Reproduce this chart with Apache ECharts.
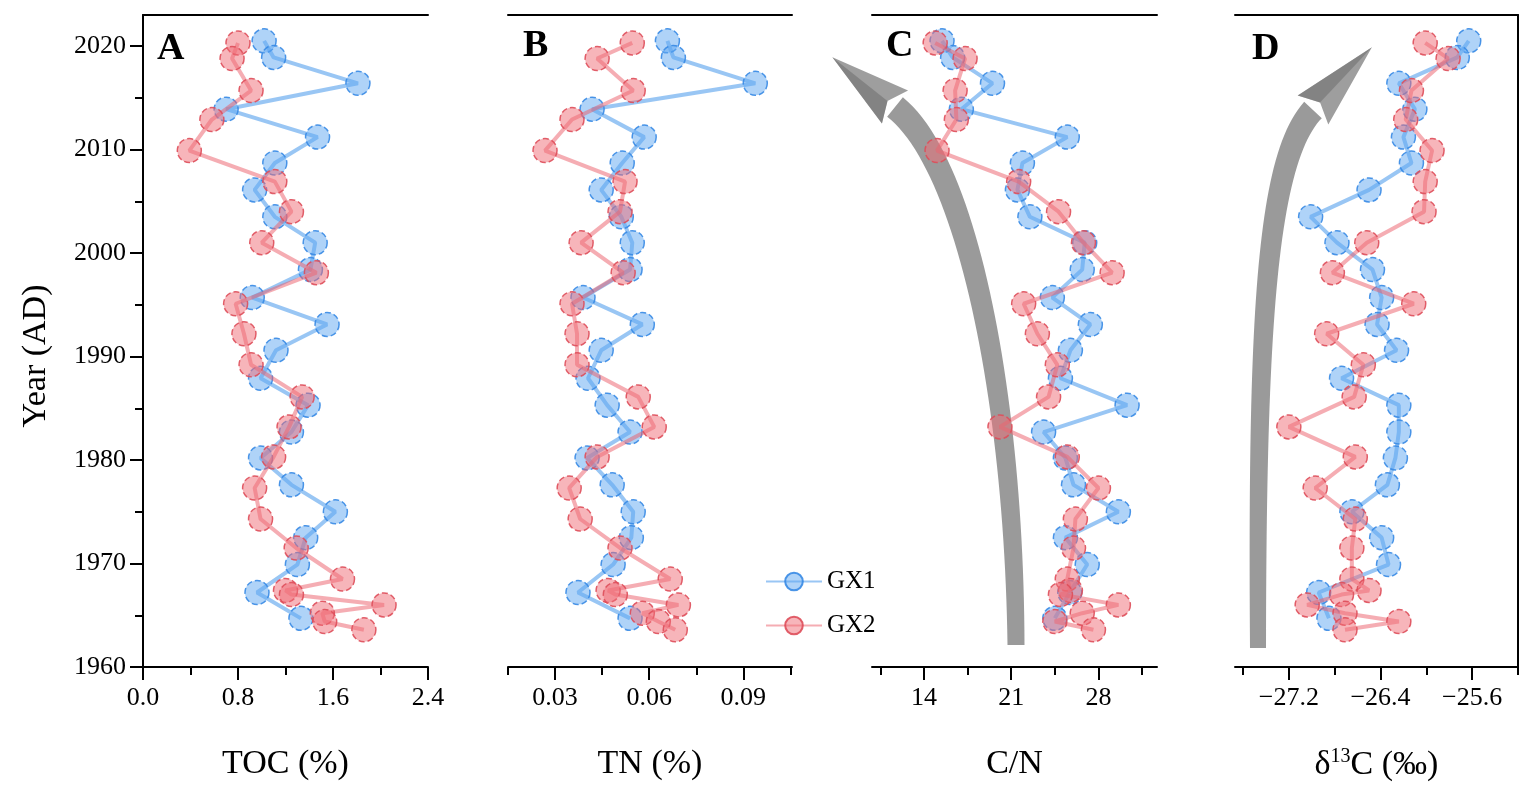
<!DOCTYPE html>
<html><head><meta charset="utf-8">
<script src="https://cdn.jsdelivr.net/npm/echarts@6/dist/echarts.min.js"></script>
<style>html,body{margin:0;padding:0;background:#fff}#c{width:1535px;height:798px}</style>
</head><body><div id="c"></div><script>
// ---- data ----
const years1 = [2020.5, 2018.9, 2016.4, 2013.9, 2011.2, 2008.7, 2006.1, 2003.5, 2001.0, 1998.4, 1995.7, 1993.1, 1990.6, 1987.9, 1985.3, 1982.7, 1980.2, 1977.6, 1975.0, 1972.5, 1969.9, 1967.2, 1964.7];
const years2 = [2020.3, 2018.8, 2015.7, 2012.9, 2009.9, 2006.9, 2004.0, 2001.0, 1998.1, 1995.1, 1992.2, 1989.2, 1986.1, 1983.2, 1980.3, 1977.3, 1974.3, 1971.5, 1968.5, 1967.4, 1967.0, 1966.0, 1965.2, 1964.4, 1963.6];

const toc1 = [1.02, 1.10, 1.81, 0.70, 1.47, 1.11, 0.94, 1.11, 1.45, 1.41, 0.92, 1.55, 1.12, 0.99, 1.39, 1.25, 0.99, 1.25, 1.62, 1.37, 1.30, 0.96, 1.33];
const toc2 = [0.80, 0.75, 0.91, 0.58, 0.39, 1.11, 1.25, 1.00, 1.46, 0.78, 0.85, 0.91, 1.34, 1.23, 1.10, 0.94, 0.99, 1.29, 1.68, 1.20, 1.25, 2.03, 1.51, 1.53, 1.86];

const tn1 = [0.0658, 0.0677, 0.0938, 0.0418, 0.0584, 0.0514, 0.0447, 0.0511, 0.0546, 0.0539, 0.0389, 0.0578, 0.0447, 0.0405, 0.0466, 0.0539, 0.0402, 0.0482, 0.0549, 0.0543, 0.0485, 0.0373, 0.0539];
const tn2 = [0.0546, 0.0434, 0.0549, 0.0354, 0.0268, 0.0523, 0.0507, 0.0383, 0.0517, 0.0354, 0.0370, 0.0370, 0.0565, 0.0616, 0.0434, 0.0345, 0.0380, 0.0507, 0.0667, 0.0469, 0.0492, 0.0693, 0.0578, 0.0629, 0.0683];

const cn1 = [15.45, 16.3, 19.5, 17.0, 25.5, 21.9, 21.5, 22.5, 26.9, 26.7, 24.3, 27.35, 25.75, 24.95, 30.3, 23.6, 25.35, 26.0, 29.6, 25.35, 27.1, 25.7, 24.5];
const cn2 = [14.9, 17.3, 16.5, 16.6, 15.05, 21.6, 24.8, 26.8, 29.1, 22.0, 23.1, 24.7, 24.0, 20.1, 25.5, 28.0, 26.15, 26.0, 25.5, 25.75, 24.95, 29.6, 26.7, 24.5, 27.6];

const d13c1 = [-25.63, -25.73, -26.24, -26.10, -26.20, -26.13, -26.50, -27.01, -26.78, -26.47, -26.39, -26.43, -26.26, -26.74, -26.24, -26.24, -26.27, -26.34, -26.65, -26.39, -26.33, -26.94, -26.85];
const d13c2 = [-26.01, -25.81, -26.13, -26.18, -25.95, -26.01, -26.02, -26.52, -26.82, -26.11, -26.87, -26.55, -26.63, -27.20, -26.62, -26.97, -26.62, -26.65, -26.65, -26.50, -26.74, -27.04, -26.71, -26.24, -26.71];

// tick labels
const yearMajor = [1960, 1970, 1980, 1990, 2000, 2010, 2020];
const yearMinor = [1965, 1975, 1985, 1995, 2005, 2015];
const tocMajor = [0, 0.8, 1.6, 2.4], tocMinor = [0.4, 1.2, 2.0];
const tnMajor = [0.03, 0.06, 0.09], tnMinor = [0.015, 0.045, 0.075, 0.105];
const cnMajor = [14, 21, 28], cnMinor = [10.5, 17.5, 24.5, 31.5];
const dMajor = [-27.2, -26.4, -25.6], dMinor = [-27.6, -26.8, -26.0, -25.2];
const seriesNames = ['GX1', 'GX2'];
const panelLetters = ['A', 'B', 'C', 'D'];

// ---- chart ----
const FONT = 'Liberation Serif';
const chart = echarts.init(document.getElementById('c'));
const TOP = 15, BOTTOM_Y = 667;
const gridPos = [
  {left: 143, width: 285},
  {left: 508, width: 284},
  {left: 872, width: 285},
  {left: 1235, width: 283}
];
const minus = v => (v < 0 ? '\u2212' : '') + Math.abs(v).toFixed(1);
const panels = [
  {min: 0, max: 2.4, major: tocMajor, minor: tocMinor, fmt: v => v.toFixed(1), name: 'TOC (%)', g1: toc1, g2: toc2},
  {min: 0.015, max: 0.1055, major: tnMajor, minor: tnMinor, fmt: v => v.toFixed(2), name: 'TN (%)', g1: tn1, g2: tn2},
  {min: 9.83, max: 32.7, major: cnMajor, minor: cnMinor, fmt: v => String(v), name: 'C/N', g1: cn1, g2: cn2},
  {min: -27.67, max: -25.2, major: dMajor, minor: dMinor, fmt: minus, name: '{a|δ}{s|13}{a|C (‰)}', g1: d13c1, g2: d13c2}
];
const lineC = {color: '#000', width: 2};
const TICKFS = 26, NAMEFS = 34;
const grid = gridPos.map(g => ({left: g.left, width: g.width, top: TOP, height: BOTTOM_Y - TOP, containLabel: false}));
const xAxis = [], yAxis = [], series = [];
panels.forEach((p, i) => {
  xAxis.push({
    type: 'value', gridIndex: i, position: 'bottom', min: p.min, max: p.max,
    axisLine: {show: true, onZero: false, lineStyle: lineC},
    axisTick: {show: true, customValues: p.major, length: 13, inside: false, lineStyle: lineC},
    axisLabel: {show: true, customValues: p.major, formatter: p.fmt, margin: 18, fontFamily: FONT, fontSize: TICKFS, color: '#000'},
    splitLine: {show: false},
    name: p.name, nameLocation: 'middle', nameGap: 80,
    nameTextStyle: {fontFamily: FONT, fontSize: NAMEFS, color: '#000',
      rich: {a: {fontFamily: FONT, fontSize: NAMEFS, color: '#000'}, s: {fontFamily: FONT, fontSize: 20, color: '#000', padding: [0, 0, 16, 0]}}}
  });
  xAxis.push({
    type: 'value', gridIndex: i, position: 'bottom', min: p.min, max: p.max,
    axisLine: {show: false, onZero: false},
    axisTick: {show: true, customValues: p.minor, length: 8, lineStyle: lineC},
    axisLabel: {show: false}, splitLine: {show: false}
  });
  xAxis.push({
    type: 'value', gridIndex: i, position: 'top', min: p.min, max: p.max,
    axisLine: {show: true, onZero: false, lineStyle: lineC},
    axisTick: {show: false}, axisLabel: {show: false}, splitLine: {show: false}
  });
  const isA = i === 0, isD = i === 3;
  yAxis.push({
    type: 'value', gridIndex: i, min: 1960, max: 2023, position: isD ? 'right' : 'left',
    axisLine: {show: isA || isD, onZero: false, lineStyle: lineC},
    axisTick: {show: isA, customValues: yearMajor, length: 13, lineStyle: lineC},
    axisLabel: {show: isA, customValues: yearMajor, formatter: v => String(v), margin: 17, fontFamily: FONT, fontSize: TICKFS, color: '#000'},
    splitLine: {show: false},
    name: isA ? 'Year (AD)' : '', nameLocation: 'middle', nameGap: 90,
    nameTextStyle: {fontFamily: FONT, fontSize: NAMEFS, color: '#000', padding: [0, 30, 0, 0]}
  });
  series.push(makeSeries(seriesNames[0], p.g1, years1, i, true));
  series.push(makeSeries(seriesNames[1], p.g2, years2, i, false));
});
yAxis.push({
  type: 'value', gridIndex: 0, min: 1960, max: 2023, position: 'left',
  axisLine: {show: false, onZero: false},
  axisTick: {show: true, customValues: yearMinor, length: 8, lineStyle: lineC},
  axisLabel: {show: false}, splitLine: {show: false}
});

function makeSeries(name, xs, ys, panel, blue) {
  return {
    name, type: 'line', xAxisIndex: panel * 3, yAxisIndex: panel,
    data: ys.map((y, k) => [xs[k], y]),
    symbol: 'circle', symbolSize: 24, clip: false,
    lineStyle: {width: 4, color: blue ? 'rgba(70,152,235,0.55)' : 'rgba(235,92,104,0.5)'},
    itemStyle: {
      color: blue ? 'rgba(95,168,242,0.5)' : 'rgba(240,108,118,0.5)',
      borderColor: blue ? 'rgba(55,138,228,0.9)' : 'rgba(222,78,90,0.9)',
      borderWidth: 1.5, borderType: 'dashed'
    },
    emphasis: {disabled: true}, z: blue ? 3 : 4
  };
}

// decorative trend arrows (C and D): tapered curved shaft + cone head
function bez(p0, c1, c2, p3, t) {
  const m = 1 - t;
  return [
    m*m*m*p0[0] + 3*m*m*t*c1[0] + 3*m*t*t*c2[0] + t*t*t*p3[0],
    m*m*m*p0[1] + 3*m*m*t*c1[1] + 3*m*t*t*c2[1] + t*t*t*p3[1]
  ];
}
function arrow(p0, c1, c2, p3, headLen, halfW, w0, w1) {
  const left = [], right = [], N = 48;
  for (let k = 0; k <= N; k++) {
    const t = k / N;
    const a = bez(p0, c1, c2, p3, Math.max(0, t - 0.005)), b = bez(p0, c1, c2, p3, Math.min(1, t + 0.005));
    const q = bez(p0, c1, c2, p3, t);
    const dx = b[0] - a[0], dy = b[1] - a[1], L = Math.hypot(dx, dy);
    const nx = -dy / L, ny = dx / L, w = (w0 + (w1 - w0) * t) / 2;
    left.push([q[0] + nx * w, q[1] + ny * w]);
    right.unshift([q[0] - nx * w, q[1] - ny * w]);
  }
  const dx = p3[0] - c2[0], dy = p3[1] - c2[1], L = Math.hypot(dx, dy);
  const ux = dx / L, uy = dy / L, px = -uy, py = ux;
  const tip = [p3[0] + ux * headLen, p3[1] + uy * headLen];
  const b1 = [p3[0] + px * halfW, p3[1] + py * halfW];
  const b2 = [p3[0] - px * halfW, p3[1] - py * halfW];
  const back = [p3[0] + ux * headLen * 0.12, p3[1] + uy * headLen * 0.12];
  return [
    {type: 'polygon', shape: {points: left.concat(right)}, style: {fill: 'rgba(140,140,140,0.88)'}, z: 1},
    {type: 'polygon', shape: {points: [tip, b1, back, b2]}, style: {fill: 'rgba(150,150,150,0.92)'}, z: 1},
    {type: 'polygon', shape: {points: [tip, back, b2]}, style: {fill: 'rgba(110,110,110,0.55)'}, z: 1}
  ];
}
const graphic = [].concat(
  arrow([1016, 645], [1014, 400], [968, 165], [895, 107], 80, 21, 17, 25),
  arrow([1258, 648], [1257, 330], [1266, 160], [1313, 110], 86, 21, 16, 24),
  panelLetters.map((t, i) => ({
    type: 'text', left: [157, 523, 886, 1252][i], top: [30, 27, 27, 30][i],
    style: {text: t, font: 'bold 38px "' + FONT + '"', fill: '#000'}, z: 10
  }))
);

chart.setOption({
  animation: false,
  backgroundColor: '#fff',
  grid, xAxis, yAxis, series, graphic,
  legend: {
    data: seriesNames, orient: 'vertical', left: 760, top: 564, itemWidth: 56, itemHeight: 22, itemGap: 19,
    textStyle: {fontFamily: FONT, fontSize: 25, color: '#000'}, selectedMode: false
  }
});
</script></body></html>
